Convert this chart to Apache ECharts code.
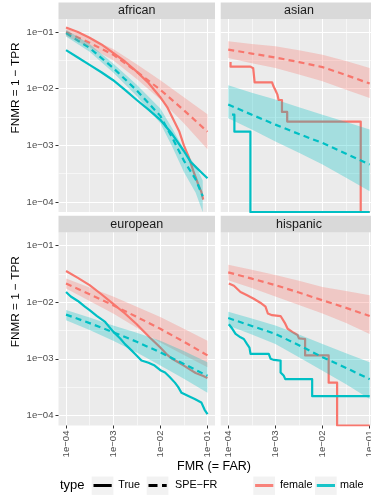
<!DOCTYPE html>
<html><head><meta charset="utf-8">
<script src="https://cdn.jsdelivr.net/npm/echarts@6/dist/echarts.min.js"></script>
<style>html,body{margin:0;padding:0;background:#fff}#c{width:371px;height:497px}</style>
</head><body><div id="c"></div><script>
// ---------------- DATA ----------------
const panelNames = ['african', 'asian', 'european', 'hispanic'];
const tickValues = [1e-4, 1e-3, 1e-2, 1e-1];
const tickLabels = ['1e\u221204', '1e\u221203', '1e\u221202', '1e\u221201'];
const legendTypeLabels = ['True', 'SPE\u2212FR'];
const legendSexLabels = ['female', 'male'];

// SPE-FR curves share this FMR grid (except african male)
const speX = [1e-4, 3.16e-4, 1e-3, 3.16e-3, 1e-2, 3.16e-2, 1e-1];

// african
const african_female_true_x = [1e-4, 1.78e-4, 3.16e-4, 5.62e-4, 1e-3, 1.78e-3, 3.16e-3, 5.62e-3, 1e-2, 1.41e-2, 1.78e-2, 2.51e-2, 3.16e-2, 3.98e-2, 5.01e-2, 6.31e-2, 7.41e-2, 8.13e-2];
const african_female_true_y = [0.120, 0.1, 0.0794, 0.0603, 0.0427, 0.0302, 0.02, 0.0126, 0.00708, 0.00468, 0.00316, 0.00178, 0.001, 0.000631, 0.000355, 0.000209, 0.000151, 0.00011];
const african_male_true_x = [1e-4, 1.78e-4, 3.16e-4, 5.62e-4, 1e-3, 1.78e-3, 3.16e-3, 5.62e-3, 1e-2, 1.78e-2, 3.16e-2, 4.47e-2, 5.62e-2, 7.94e-2, 0.1];
const african_male_true_y = [0.0479, 0.0355, 0.0263, 0.0195, 0.0141, 0.00955, 0.00631, 0.00427, 0.00282, 0.00158, 0.000794, 0.000501, 0.000417, 0.000316, 0.000263];
const african_female_spe_y = [0.1, 0.0646, 0.0398, 0.02, 0.00955, 0.00417, 0.00174];
const african_female_spe_lo = [0.0851, 0.0537, 0.0316, 0.0148, 0.00646, 0.00245, 0.000851];
const african_female_spe_hi = [0.1175, 0.0776, 0.0501, 0.0269, 0.0141, 0.00708, 0.00355];
const african_male_spe_x = [1e-4, 3.16e-4, 1e-3, 3.16e-3, 1e-2, 1.78e-2, 3.16e-2, 5.62e-2, 7.94e-2];
const african_male_spe_y = [0.0955, 0.0525, 0.0232, 0.00933, 0.00331, 0.00138, 0.000537, 0.000251, 0.000126];
const african_male_spe_lo = [0.0832, 0.0447, 0.0193, 0.00741, 0.00245, 0.000955, 0.000339, 0.000145, 0.000066];
const african_male_spe_hi = [0.1096, 0.0617, 0.0279, 0.01175, 0.00447, 0.002, 0.000851, 0.000437, 0.00024];

// asian
const asian_female_true_x = [1.12e-4, 1.12e-4, 2.95e-4, 3.39e-4, 3.63e-4, 3.63e-4, 8.51e-4, 9.12e-4, 1.02e-3, 1.10e-3, 1.17e-3, 1.38e-3, 1.38e-3, 1.78e-3, 1.78e-3, 6.46e-2, 6.46e-2, 0.1];
const asian_female_true_y = [0.0295, 0.0245, 0.0245, 0.0229, 0.0229, 0.0129, 0.0129, 0.011, 0.00912, 0.00794, 0.00631, 0.00631, 0.00389, 0.00389, 0.00263, 0.00263, 0, 0];
const asian_male_true_x = [1.2e-4, 1.35e-4, 1.35e-4, 2.95e-4, 2.95e-4, 0.1];
const asian_male_true_y = [0.00347, 0.00347, 0.00174, 0.00174, 0, 0];
const asian_female_spe_y = [0.049, 0.0417, 0.0355, 0.0295, 0.024, 0.0174, 0.0123];
const asian_female_spe_lo = [0.0347, 0.0282, 0.0232, 0.0178, 0.0135, 0.00955, 0.00684];
const asian_female_spe_hi = [0.0684, 0.0617, 0.0562, 0.0479, 0.0398, 0.0309, 0.0232];
const asian_male_spe_y = [0.00525, 0.00347, 0.00232, 0.00158, 0.0011, 0.000708, 0.000457];
const asian_male_spe_lo = [0.00302, 0.00191, 0.00117, 0.000741, 0.000457, 0.000269, 0.000155];
const asian_male_spe_hi = [0.0115, 0.00851, 0.00646, 0.00468, 0.00347, 0.00257, 0.00191];

// european
const european_female_true_x = [1e-4, 1.78e-4, 3.16e-4, 5.62e-4, 1e-3, 1.78e-3, 3.16e-3, 5.62e-3, 1e-2, 1.41e-2, 1.78e-2, 2.51e-2, 3.16e-2, 4.47e-2, 5.62e-2, 7.94e-2, 0.1];
const european_female_true_y = [0.0355, 0.0269, 0.02, 0.0138, 0.00933, 0.00631, 0.00407, 0.00251, 0.00158, 0.00117, 0.001, 0.000851, 0.000759, 0.000631, 0.000562, 0.000501, 0.000457];
const european_male_true_x = [1e-4, 1.26e-4, 1.78e-4, 2.51e-4, 3.16e-4, 4.47e-4, 6.76e-4, 1e-3, 1.41e-3, 1.78e-3, 2.51e-3, 2.88e-3, 3.98e-3, 5.62e-3, 7.59e-3, 1e-2, 1.26e-2, 1.58e-2, 2.04e-2, 2.4e-2, 2.82e-2, 3.55e-2, 4.47e-2, 5.37e-2, 6.31e-2, 7.41e-2, 8.71e-2, 9.55e-2, 0.1];
const european_male_true_y = [0.0151, 0.0126, 0.0105, 0.00832, 0.00724, 0.00575, 0.00447, 0.00302, 0.00229, 0.00182, 0.00138, 0.00123, 0.000933, 0.000851, 0.000759, 0.000631, 0.000575, 0.000479, 0.00038, 0.000316, 0.000251, 0.000229, 0.000209, 0.000195, 0.000182, 0.00017, 0.000126, 0.000112, 0.000105];
const european_female_spe_y = [0.0214, 0.0138, 0.00881, 0.0055, 0.00339, 0.002, 0.00115];
const european_female_spe_lo = [0.0174, 0.0105, 0.00631, 0.00355, 0.00195, 0.00117, 0.000708];
const european_female_spe_hi = [0.0263, 0.0182, 0.0126, 0.00832, 0.0055, 0.00339, 0.00209];
const european_male_spe_y = [0.00603, 0.00427, 0.00295, 0.002, 0.0013, 0.000813, 0.000501];
const european_male_spe_lo = [0.00479, 0.00324, 0.00209, 0.00129, 0.000759, 0.000447, 0.000251];
const european_male_spe_hi = [0.00724, 0.00537, 0.00389, 0.00288, 0.00209, 0.00138, 0.000871];

// hispanic
const hispanic_female_true_x = [1.03e-4, 1.32e-4, 1.82e-4, 2.51e-4, 3.47e-4, 4.79e-4, 6.17e-4, 6.92e-4, 8.51e-4, 1.29e-3, 1.62e-3, 1.82e-3, 2.45e-3, 2.95e-3, 3.16e-3, 4.27e-3, 4.27e-3, 1.35e-2, 1.35e-2, 2.04e-2, 2.04e-2, 0.1];
const hispanic_female_true_y = [0.0214, 0.0195, 0.0151, 0.0132, 0.0115, 0.00977, 0.00832, 0.00631, 0.00589, 0.00569, 0.00417, 0.00339, 0.00288, 0.00263, 0.00229, 0.00224, 0.00115, 0.00115, 0.00038, 0.00038, 0, 0];
const hispanic_male_true_x = [1.03e-4, 1.22e-4, 1.43e-4, 1.82e-4, 2.14e-4, 2.51e-4, 2.82e-4, 2.97e-4, 7.24e-4, 7.94e-4, 9.33e-4, 1.29e-3, 1.29e-3, 1.51e-3, 1.62e-3, 6.03e-3, 6.03e-3, 0.1];
const hispanic_male_true_y = [0.00407, 0.00339, 0.00275, 0.0024, 0.00224, 0.00182, 0.00158, 0.00122, 0.00122, 0.001, 0.000955, 0.000933, 0.000575, 0.000501, 0.000437, 0.000437, 0.000219, 0.000219];
const hispanic_female_spe_y = [0.0336, 0.026, 0.02, 0.0148, 0.0108, 0.00794, 0.00569];
const hispanic_female_spe_lo = [0.0245, 0.0178, 0.0126, 0.00891, 0.00631, 0.00427, 0.00275];
const hispanic_female_spe_hi = [0.0457, 0.0372, 0.0302, 0.024, 0.0186, 0.0158, 0.0132];
const hispanic_male_spe_y = [0.00525, 0.0038, 0.00275, 0.00174, 0.00107, 0.000692, 0.000437];
const hispanic_male_spe_lo = [0.00389, 0.00269, 0.00182, 0.00107, 0.000617, 0.000355, 0.000195];
const hispanic_male_spe_hi = [0.00676, 0.00513, 0.00389, 0.00269, 0.00182, 0.00126, 0.000871];

// ---------------- BUILD ----------------
const panelData = [
  {fT:[african_female_true_x, african_female_true_y], mT:[african_male_true_x, african_male_true_y],
   fS:[speX, african_female_spe_y, african_female_spe_lo, african_female_spe_hi],
   mS:[african_male_spe_x, african_male_spe_y, african_male_spe_lo, african_male_spe_hi]},
  {fT:[asian_female_true_x, asian_female_true_y], mT:[asian_male_true_x, asian_male_true_y],
   fS:[speX, asian_female_spe_y, asian_female_spe_lo, asian_female_spe_hi],
   mS:[speX, asian_male_spe_y, asian_male_spe_lo, asian_male_spe_hi]},
  {fT:[european_female_true_x, european_female_true_y], mT:[european_male_true_x, european_male_true_y],
   fS:[speX, european_female_spe_y, european_female_spe_lo, european_female_spe_hi],
   mS:[speX, european_male_spe_y, european_male_spe_lo, european_male_spe_hi]},
  {fT:[hispanic_female_true_x, hispanic_female_true_y], mT:[hispanic_male_true_x, hispanic_male_true_y],
   fS:[speX, hispanic_female_spe_y, hispanic_female_spe_lo, hispanic_female_spe_hi],
   mS:[speX, hispanic_male_spe_y, hispanic_male_spe_lo, hispanic_male_spe_hi]}
];

const RED = '#F8766D', TEAL = '#00BFC4';
const RED_FILL = 'rgba(248,118,109,0.3)', TEAL_FILL = 'rgba(0,191,196,0.3)';
const FONT = '"Liberation Sans", Arial, Helvetica, sans-serif';
const XMIN = -4.16, XMAX = -0.84, YMIN = -4.177, YMAX = -0.77;
const majorLog = tickValues.map(v => Math.log10(v));
const minorLog = majorLog.slice(0, -1).map((v, i) => (v + majorLog[i + 1]) / 2);
const lx = v => Math.log10(v);
const ly = v => v > 0 ? Math.log10(v) : YMIN; // zero -> squished to panel edge (like -Inf in ggplot)
const labelFor = v => { const i = majorLog.findIndex(t => Math.abs(t - v) < 1e-6); return i >= 0 ? tickLabels[i] : ''; };

const GW = 156.5, GH = 193;
const gridPos = [[58.5, 19], [220.7, 19], [58.5, 232.5], [220.7, 232.5]];
const grids = [], xAxes = [], yAxes = [], series = [], graphics = [];

gridPos.forEach((p, g) => {
  const bottomRow = g >= 2, leftCol = g % 2 === 0;
  grids.push({left: p[0], top: p[1], width: GW, height: GH, show: true, backgroundColor: '#EBEBEB',
              borderWidth: 0, containLabel: false, outerBoundsMode: 'none'});
  const axBase = {gridIndex: g, type: 'value', axisLine: {show: false, onZero: false}};
  xAxes.push(Object.assign({}, axBase, {min: XMIN, max: XMAX, position: 'bottom',
    axisTick: {show: bottomRow, customValues: majorLog, length: 3, lineStyle: {color: '#333', width: 1}},
    axisLabel: {show: bottomRow, customValues: majorLog, rotate: 90, margin: 5, fontSize: 9.6, color: '#4D4D4D',
                fontFamily: FONT, formatter: labelFor},
    splitLine: {show: true, lineStyle: {color: '#FFFFFF', width: 1.1}}}));
  xAxes.push(Object.assign({}, axBase, {min: XMIN, max: XMAX, position: 'top',
    axisTick: {show: false, customValues: minorLog}, axisLabel: {show: false},
    splitLine: {show: true, lineStyle: {color: '#FFFFFF', width: 0.55}}}));
  yAxes.push(Object.assign({}, axBase, {min: YMIN, max: YMAX, position: 'left',
    axisTick: {show: leftCol, customValues: majorLog, length: 3, lineStyle: {color: '#333', width: 1}},
    axisLabel: {show: leftCol, customValues: majorLog, margin: 5, fontSize: 9.6, color: '#4D4D4D',
                fontFamily: FONT, formatter: labelFor},
    splitLine: {show: true, lineStyle: {color: '#FFFFFF', width: 1.1}}}));
  yAxes.push(Object.assign({}, axBase, {min: YMIN, max: YMAX, position: 'right',
    axisTick: {show: false, customValues: minorLog}, axisLabel: {show: false},
    splitLine: {show: true, lineStyle: {color: '#FFFFFF', width: 0.55}}}));

  const d = panelData[g];
  const common = {xAxisIndex: 2 * g, yAxisIndex: 2 * g, silent: true, animation: false};
  const line = (xs, ys, color, dashed, nm) => Object.assign({}, common, {type: 'line', name: nm, z: 2,
    symbol: 'none', showSymbol: false, clip: true,
    data: xs.map((x, i) => [lx(x), ly(ys[i])]),
    lineStyle: {color: color, width: 2.2, type: dashed ? [6, 4.2] : 'solid', cap: 'butt', join: 'round'},
    itemStyle: {color: color}});
  // confidence band: polygon upper edge forward, lower edge backward, mapped with the axes' scales
  const ribbon = (xs, lo, hi, fill) => Object.assign({}, common, {type: 'custom', z: 3, clip: true,
    encode: {x: 0, y: [1, 2]},
    data: xs.map((x, i) => [lx(x), ly(lo[i]), ly(hi[i])]),
    renderItem: function (params, api) {
      if (params.dataIndex !== 0) return null;
      const pts = [];
      for (let i = 0; i < xs.length; i++) pts.push(api.coord([lx(xs[i]), ly(hi[i])]));
      for (let i = xs.length - 1; i >= 0; i--) pts.push(api.coord([lx(xs[i]), ly(lo[i])]));
      const cs = params.coordSys;
      return {type: 'polygon', shape: {points: pts}, style: {fill: fill, stroke: null},
              clipPath: {type: 'rect', shape: {x: cs.x, y: cs.y, width: cs.width, height: cs.height}}};
    }});
  series.push(line(d.fT[0], d.fT[1], RED, false, 'female True'));
  series.push(line(d.mT[0], d.mT[1], TEAL, false, 'male True'));
  series.push(line(d.fS[0], d.fS[1], RED, true, 'female SPE-FR'));
  series.push(line(d.mS[0], d.mS[1], TEAL, true, 'male SPE-FR'));
  series.push(ribbon(d.fS[0], d.fS[2], d.fS[3], RED_FILL));
  series.push(ribbon(d.mS[0], d.mS[2], d.mS[3], TEAL_FILL));

  // facet strip
  const sy = g < 2 ? 2.5 : 215.8, sh = g < 2 ? 16.5 : 16.7;
  graphics.push({type: 'rect', shape: {x: p[0], y: sy, width: GW, height: sh}, style: {fill: '#D9D9D9'}, silent: true});
  graphics.push({type: 'text', x: p[0] + GW / 2, y: sy + sh / 2, silent: true,
    style: {text: panelNames[g], fill: '#1A1A1A', font: '12.5px ' + FONT, align: 'center', verticalAlign: 'middle'}});
});

// axis titles
[88, 301.7].forEach(cy => graphics.push({type: 'text', x: 16, y: cy, rotation: Math.PI / 2, silent: true,
  style: {text: 'FNMR = 1 \u2212 TPR', fill: '#000', font: '11.8px ' + FONT, align: 'center', verticalAlign: 'middle'}}));
graphics.push({type: 'text', x: 214, y: 466.5, silent: true,
  style: {text: 'FMR (= FAR)', fill: '#000', font: '12.5px ' + FONT, align: 'center', verticalAlign: 'middle'}});

// legend
const LY = 485.5;
graphics.push({type: 'text', x: 60, y: LY, silent: true,
  style: {text: 'type', fill: '#000', font: '13px ' + FONT, align: 'left', verticalAlign: 'middle'}});
const keys = [
  {x: 91.7, color: '#000', dash: null, label: legendTypeLabels[0], lx: 118.3},
  {x: 146.7, color: '#000', dash: [9, 4.5], label: legendTypeLabels[1], lx: 175},
  {x: 253.3, color: RED, dash: null, label: legendSexLabels[0], lx: 280},
  {x: 315, color: TEAL, dash: null, label: legendSexLabels[1], lx: 340}
];
keys.forEach(k => {
  graphics.push({type: 'rect', shape: {x: k.x, y: 476.5, width: 21.7, height: 18.4}, style: {fill: '#F2F2F2'}, silent: true});
  graphics.push({type: 'line', shape: {x1: k.x + 1.8, y1: LY, x2: k.x + 20, y2: LY}, silent: true,
    style: {stroke: k.color, lineWidth: 3, lineDash: k.dash, opacity: k.color === '#000' ? 1 : 0.9}});
  graphics.push({type: 'text', x: k.lx, y: LY, silent: true,
    style: {text: k.label, fill: '#000', font: '10.8px ' + FONT, align: 'left', verticalAlign: 'middle'}});
});

const chart = echarts.init(document.getElementById('c'), null, {renderer: 'canvas'});
chart.setOption({
  animation: false,
  backgroundColor: '#FFFFFF',
  grid: grids, xAxis: xAxes, yAxis: yAxes, series: series,
  graphic: {elements: graphics}
});
</script></body></html>
